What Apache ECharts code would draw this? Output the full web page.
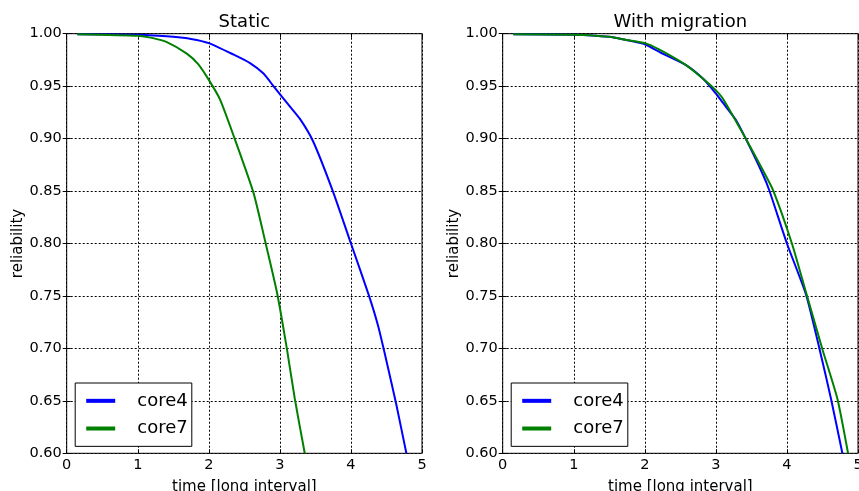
<!doctype html>
<html>
<head>
    <title>Reliability</title>
    <script src="https://cdnjs.cloudflare.com/ajax/libs/echarts/6.0.0/echarts.min.js"></script>
</head>
<style>
    html, body { margin: 0; padding: 0; background: #fff; }
    #main { width: 859px; height: 491px; }
</style>
<body>
<div id="main"></div>
<script>
  // values
  var titles = ['Static', 'With migration'];
  var seriesNames = ['core4', 'core7'];
  var xTicks = [0, 1, 2, 3, 4, 5];
  var yTicks = [0.60, 0.65, 0.70, 0.75, 0.80, 0.85, 0.90, 0.95, 1.00];

  var staticCore4X = [0.15, 1.0, 1.5, 1.75, 2.0, 2.35, 2.58, 2.77, 2.91, 3.10, 3.28, 3.47, 3.75, 4.0, 4.25, 4.38, 4.50, 4.64, 4.78];
  var staticCore4Y = [0.9995, 0.999, 0.997, 0.995, 0.991, 0.980, 0.972, 0.962, 0.950, 0.934, 0.919, 0.897, 0.849, 0.800, 0.751, 0.722, 0.688, 0.646, 0.600];
  var staticCore7X = [0.15, 1.0, 1.2, 1.41, 1.69, 1.85, 2.0, 2.16, 2.39, 2.63, 2.79, 2.96, 3.10, 3.21, 3.35];
  var staticCore7Y = [0.9995, 0.998, 0.996, 0.992, 0.981, 0.971, 0.956, 0.937, 0.895, 0.848, 0.803, 0.753, 0.699, 0.652, 0.600];

  var migCore4X = [0.15, 1.0, 1.5, 1.74, 2.0, 2.25, 2.58, 2.82, 3.0, 3.10, 3.28, 3.42, 3.66, 3.75, 4.0, 4.27, 4.46, 4.62, 4.78];
  var migCore4Y = [0.9995, 0.999, 0.997, 0.994, 0.990, 0.981, 0.970, 0.957, 0.943, 0.934, 0.918, 0.900, 0.866, 0.851, 0.800, 0.751, 0.699, 0.652, 0.600];
  var migCore7X = [0.15, 1.0, 1.5, 1.74, 2.0, 2.2, 2.58, 2.82, 3.0, 3.10, 3.42, 3.66, 3.81, 4.07, 4.27, 4.50, 4.71, 4.86];
  var migCore7Y = [0.9995, 0.999, 0.997, 0.994, 0.991, 0.985, 0.970, 0.957, 0.946, 0.938, 0.900, 0.870, 0.850, 0.800, 0.753, 0.699, 0.652, 0.600];

  var colors = ['#0000ff', '#008000'];
  var font = 'DejaVu Sans';

  function zip(xs, ys) {
    return xs.map(function (x, i) { return [x, ys[i]]; });
  }

  var panels = [
    [zip(staticCore4X, staticCore4Y), zip(staticCore7X, staticCore7Y)],
    [zip(migCore4X, migCore4Y), zip(migCore7X, migCore7Y)]
  ];

  var gridLefts = [66.7, 502.7];
  var gridW = 355.3;

  var option = {
    animation: false,
    textStyle: { fontFamily: font },
    title: [], grid: [], xAxis: [], yAxis: [], legend: [], series: []
  };

  gridLefts.forEach(function (left, g) {
    option.title.push({
      text: titles[g],
      left: left + gridW / 2,
      textAlign: 'center',
      top: 4,
      padding: 0,
      textStyle: { fontFamily: font, fontSize: 18, fontWeight: 'normal', color: '#000' }
    });
    option.grid.push({
      left: left, top: 33.7, width: gridW, height: 419.6,
      outerBoundsMode: 'none', containLabel: false,
      show: true, borderColor: '#000', borderWidth: 1, backgroundColor: '#fff'
    });
    var xBase = {
      type: 'value', gridIndex: g, min: 0, max: 5, interval: 1,
      axisLine: { show: false },
      axisTick: { show: true, inside: true, length: 4, lineStyle: { color: '#000' } }
    };
    option.xAxis.push(Object.assign({}, xBase, {
      position: 'bottom',
      name: 'time [long interval]', nameLocation: 'middle', nameGap: 19,
      nameMoveOverlap: false,
      nameTextStyle: { fontFamily: font, fontSize: 15, color: '#000' },
      axisLabel: { fontFamily: font, fontSize: 14.5, color: '#000', margin: -2 },
      splitLine: { show: true, lineStyle: { type: [2, 2], color: '#000', width: 1 } }
    }));
    option.xAxis.push(Object.assign({}, xBase, {
      position: 'top', axisLabel: { show: false }, splitLine: { show: false }
    }));
    var yBase = {
      type: 'value', gridIndex: g, min: 0.6, max: 1.0, interval: 0.05,
      axisLine: { show: false },
      axisTick: { show: true, inside: true, length: 4, lineStyle: { color: '#000' } }
    };
    option.yAxis.push(Object.assign({}, yBase, {
      position: 'left',
      name: 'reliability', nameLocation: 'middle', nameGap: 34, nameRotate: 90,
      nameMoveOverlap: false,
      nameTextStyle: { fontFamily: font, fontSize: 15, color: '#000' },
      axisLabel: { fontFamily: font, fontSize: 14.5, color: '#000', margin: 5,
        formatter: function (v) { return v.toFixed(2); } },
      splitLine: { show: true, lineStyle: { type: [2, 2], color: '#000', width: 1 } }
    }));
    option.yAxis.push(Object.assign({}, yBase, {
      position: 'right', axisLabel: { show: false }, splitLine: { show: false }
    }));

    option.legend.push({
      orient: 'vertical',
      left: left + 8.5, top: 383,
      backgroundColor: '#fff',
      borderColor: '#000', borderWidth: 1, borderRadius: 0,
      padding: [0, 4, 0, 11],
      itemGap: -8,
      itemWidth: 29, itemHeight: 4,
      icon: 'rect',
      textStyle: { fontFamily: font, fontSize: 18, color: '#000', lineHeight: 18 }
    });

    panels[g].forEach(function (data, s) {
      option.series.push({
        name: seriesNames[s] + (g ? ' ' : ''),
        type: 'line',
        xAxisIndex: g * 2, yAxisIndex: g * 2,
        data: data,
        showSymbol: false,
        symbol: 'none',
        smooth: 0.2,
        clip: true,
        color: colors[s],
        lineStyle: { color: colors[s], width: 2 }
      });
    });
  });

  // legends only show their own panel's series
  option.legend[0].data = seriesNames.slice();
  option.legend[0].formatter = function (n) { return '   ' + n; };
  option.legend[1].data = seriesNames.map(function (n) { return n + ' '; });
  option.legend[1].formatter = function (n) { return '   ' + n.trim(); };

  var chart = echarts.init(document.getElementById('main'));
  chart.setOption(option);
</script>
</body>
</html>
